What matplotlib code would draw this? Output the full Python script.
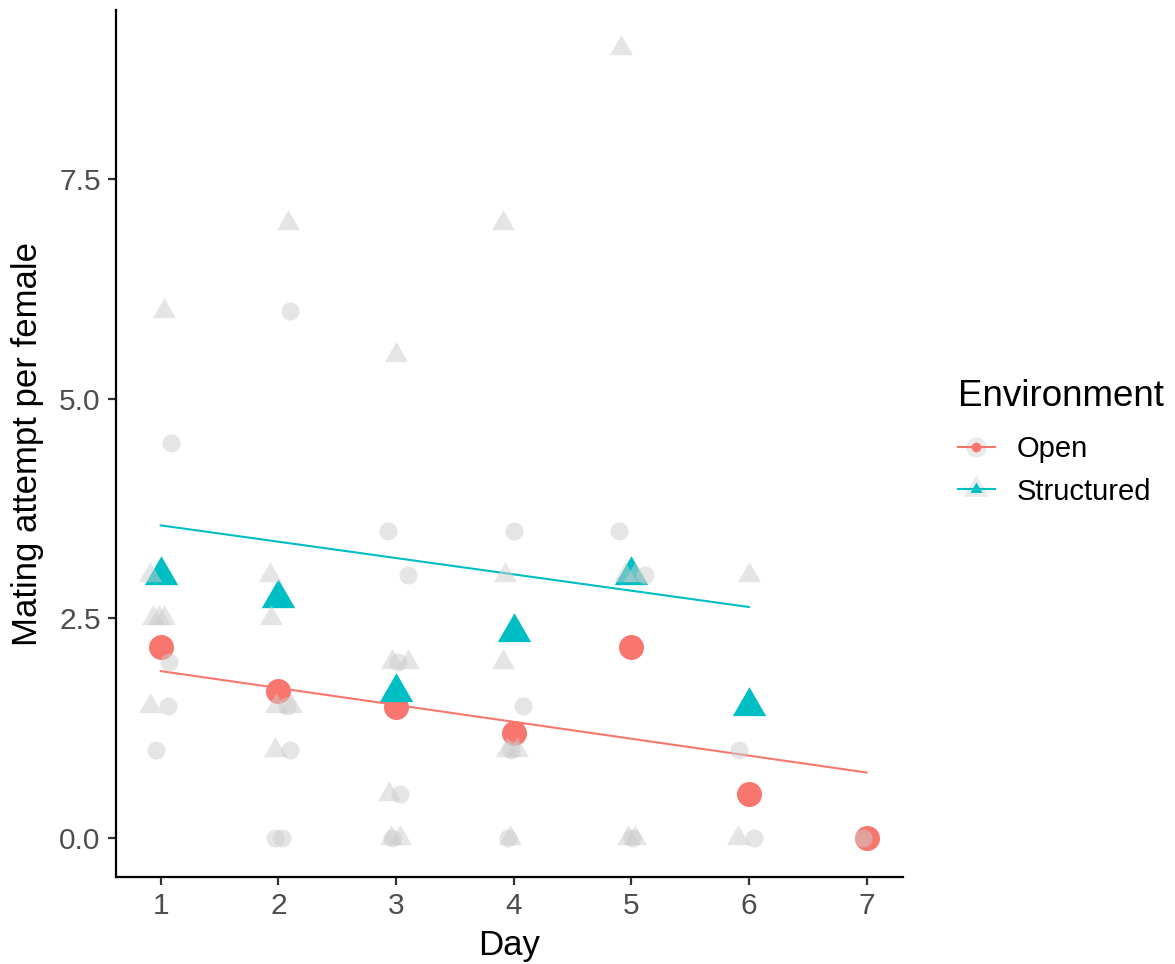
import matplotlib
matplotlib.use("Agg")
import matplotlib.pyplot as plt
from matplotlib.path import Path
from matplotlib.lines import Line2D
import numpy as np

plt.rcParams['font.family'] = ['Liberation Sans', 'DejaVu Sans']

# group means
open_days = [1, 2, 3, 4, 5, 6, 7]
open_mean = [2.17, 1.67, 1.49, 1.19, 2.17, 0.50, 0.00]
struct_days = [1, 2, 3, 4, 5, 6]
struct_mean = [3.00, 2.73, 1.66, 2.34, 3.00, 1.50]

# linear fit end points
open_fit_days = [1, 7]
open_fit = [1.90, 0.745]
struct_fit_days = [1, 6]
struct_fit = [3.56, 2.63]

# raw (jittered) observations
open_raw_x = [1.09, 1.07, 1.06, 0.96,
              2.10, 2.07, 2.10, 1.97, 2.03,
              2.93, 3.10, 3.02, 3.03, 2.97,
              4.00, 4.08, 3.98, 3.95,
              4.90, 5.12, 5.01,
              5.92, 6.04,
              6.97]
open_raw_y = [4.5, 2.0, 1.5, 1.0,
              6.0, 1.5, 1.0, 0.0, 0.0,
              3.5, 3.0, 2.0, 0.5, 0.0,
              3.5, 1.5, 1.0, 0.0,
              3.5, 3.0, 0.0,
              1.0, 0.0,
              0.0]
struct_raw_x = [1.03, 0.91, 0.935, 0.985, 1.03, 0.91,
                2.08, 1.93, 1.94, 1.98, 2.11, 1.97,
                3.00, 2.97, 3.10, 2.94, 2.96, 3.03,
                3.91, 3.93, 3.91, 3.94, 4.03, 3.97,
                4.91, 4.95, 5.03, 4.97, 5.03,
                6.00, 5.91]
struct_raw_y = [6.0, 3.0, 2.5, 2.5, 2.5, 1.5,
                7.0, 3.0, 2.5, 1.5, 1.5, 1.0,
                5.5, 2.0, 2.0, 0.5, 0.0, 0.0,
                7.0, 3.0, 2.0, 1.0, 1.0, 0.0,
                9.0, 3.0, 3.0, 0.0, 0.0,
                3.0, 0.0]

env_labels = ["Open", "Structured"]
c_open = "#F8766D"
c_struct = "#00BFC4"
grey = "#cccccc"

# equilateral triangle centred on its centroid (like R pch 17)
tri = Path([(0, 1), (-0.866, -0.5), (0.866, -0.5), (0, 1)],
           [Path.MOVETO, Path.LINETO, Path.LINETO, Path.CLOSEPOLY])

fig = plt.figure(figsize=(11.75, 9.64), dpi=100)
ax = fig.add_axes([116 / 1175, 1 - 877 / 964, (903 - 116) / 1175, (877 - 10) / 964])

ax.plot(open_days, open_mean, ls="none", marker="o", ms=18, mec="none", mfc=c_open, zorder=2)
ax.plot(struct_days, struct_mean, ls="none", marker=tri, ms=27.8, mec="none", mfc=c_struct, zorder=2)

ax.plot(open_fit_days, open_fit, color=c_open, lw=1.5, zorder=3)
ax.plot(struct_fit_days, struct_fit, color=c_struct, lw=1.5, zorder=3)

ax.plot(open_raw_x, open_raw_y, ls="none", marker="o", ms=13, mec="none", mfc=grey, alpha=0.5, zorder=4)
ax.plot(struct_raw_x, struct_raw_y, ls="none", marker=tri, ms=19.2, mec="none", mfc=grey, alpha=0.5, zorder=4)

ax.set_xlim(0.62, 7.31)
ax.set_ylim(-0.445, 9.43)
ax.set_xticks(range(1, 8))
ax.set_yticks([0, 2.5, 5.0, 7.5])
ax.set_yticklabels(["0.0", "2.5", "5.0", "7.5"])
for s in ["top", "right"]:
    ax.spines[s].set_visible(False)
for s in ["left", "bottom"]:
    ax.spines[s].set_linewidth(1.6)
    ax.spines[s].set_color("black")
ax.tick_params(axis="both", length=6, width=1.6, color="#333333",
               labelcolor="#4d4d4d", labelsize=21.5, pad=5)

ax.set_xlabel("Day", fontsize=25, color="black", labelpad=6)
ax.set_ylabel("Mating attempt per female", fontsize=25, color="black", labelpad=11)

handles = []
for col, mk, ms in [(c_open, "o", 7), (c_struct, tri, 10)]:
    halo = Line2D([], [], ls="none", marker=mk, ms=ms * 2.1, mec="none", mfc=grey, alpha=0.4)
    ln = Line2D([], [], color=col, lw=1.5, marker=mk, ms=ms, mec="none", mfc=col)
    handles.append((halo, ln))
leg = fig.legend(handles, env_labels, title="Environment", loc="upper left",
                 bbox_to_anchor=(932 / 1175, 1 - 353 / 964), frameon=False,
                 fontsize=21, title_fontsize=26.5, alignment="left",
                 handlelength=1.25, handletextpad=0.75, labelspacing=0.5)
leg._legend_box.sep = 15

fig.savefig("out.png", dpi=100, facecolor="white")
